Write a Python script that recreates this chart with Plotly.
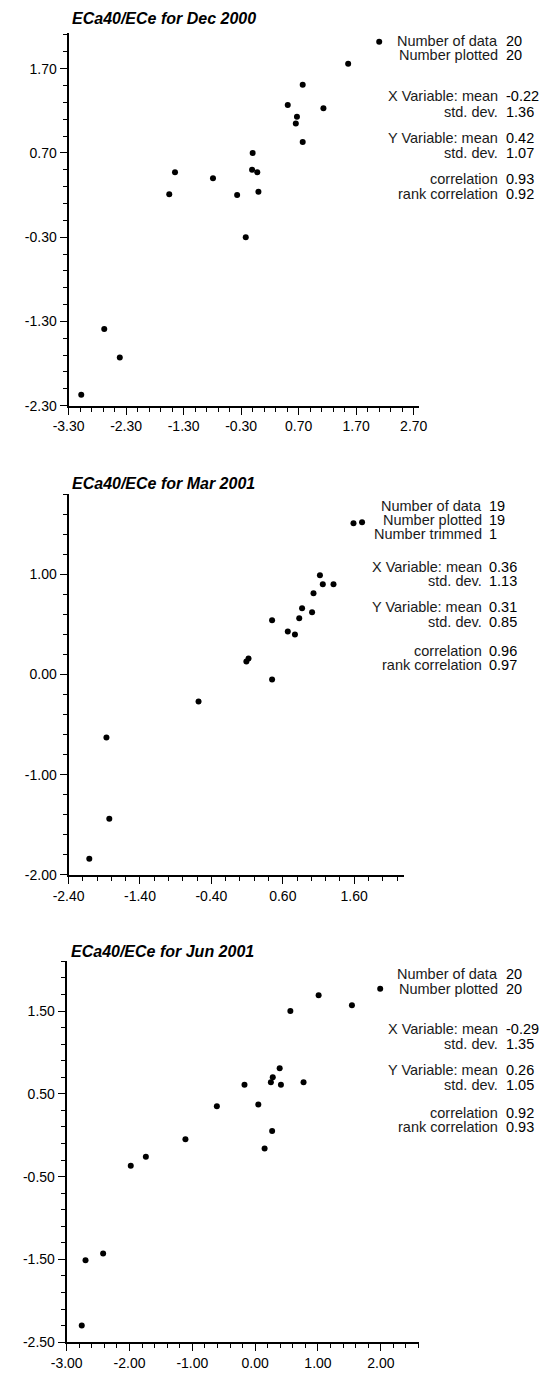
import plotly.graph_objects as go

W, H = 547, 1378
FONT = "Liberation Sans, Arial, sans-serif"

# ---------------- data ----------------
titles = ["ECa40/ECe for Dec 2000", "ECa40/ECe for Mar 2001", "ECa40/ECe for Jun 2001"]

dec_x = [2.10, 1.56, 0.77, 0.51, 1.13, 0.67, 0.65, 0.77, -0.10, -0.11,
         -0.02, -1.45, -0.79, -1.55, -0.37, 0.00, -0.22, -2.68, -2.41, -3.08]
dec_y = [2.02, 1.76, 1.51, 1.27, 1.23, 1.13, 1.05, 0.83, 0.70, 0.50,
         0.47, 0.47, 0.40, 0.21, 0.20, 0.24, -0.30, -1.39, -1.73, -2.17]

mar_x = [1.59, 1.71, 1.12, 1.16, 1.31, 1.03, 0.87, 1.01, 0.83, 0.45,
         0.67, 0.77, 0.12, 0.09, 0.45, -0.58, -1.87, -1.83, -2.11]
mar_y = [1.51, 1.52, 0.99, 0.90, 0.90, 0.81, 0.66, 0.62, 0.56, 0.54,
         0.43, 0.40, 0.16, 0.13, -0.05, -0.27, -0.63, -1.44, -1.84]

jun_x = [1.99, 1.01, 1.54, 0.56, 0.39, 0.28, 0.25, 0.41, -0.17, 0.77,
         -0.61, 0.05, 0.27, -1.11, 0.15, -1.74, -1.98, -2.42, -2.70, -2.76]
jun_y = [1.77, 1.69, 1.57, 1.50, 0.81, 0.70, 0.64, 0.61, 0.61, 0.64,
         0.35, 0.37, 0.05, -0.05, -0.16, -0.26, -0.37, -1.43, -1.51, -2.30]

dec_xticks = [-3.30, -2.30, -1.30, -0.30, 0.70, 1.70, 2.70]
dec_yticks = [-2.30, -1.30, -0.30, 0.70, 1.70]
mar_xticks = [-2.40, -1.40, -0.40, 0.60, 1.60]
mar_yticks = [-2.00, -1.00, 0.00, 1.00]
jun_xticks = [-3.00, -2.00, -1.00, 0.00, 1.00, 2.00]
jun_yticks = [-2.50, -1.50, -0.50, 0.50, 1.50]

stat_labels_a = ["Number of data", "Number plotted", "X Variable: mean", "std. dev.",
                 "Y Variable: mean", "std. dev.", "correlation", "rank correlation"]
stat_labels_b = ["Number of data", "Number plotted", "Number trimmed", "X Variable: mean",
                 "std. dev.", "Y Variable: mean", "std. dev.", "correlation", "rank correlation"]
dec_stats = ["20", "20", "-0.22", "1.36", "0.42", "1.07", "0.93", "0.92"]
mar_stats = ["19", "19", "1", "0.36", "1.13", "0.31", "0.85", "0.96", "0.97"]
jun_stats = ["20", "20", "-0.29", "1.35", "0.26", "1.05", "0.92", "0.93"]

# ---------------- layout (pixel geometry) ----------------
panels = [
    dict(x=dec_x, y=dec_y, xt=dec_xticks, yt=dec_yticks, xr=[-3.30, 2.80], yr=[-2.30, 2.12],
         px=[55, 422], py=[408, 33.5], title=titles[0], title_y=19,
         labels=stat_labels_a, vals=dec_stats, lab_x=506, val_x=510,
         rows=[41, 55.5, 97, 112.5, 138.5, 153.5, 180, 195]),
    dict(x=mar_x, y=mar_y, xt=mar_xticks, yt=mar_yticks, xr=[-2.40, 2.30], yr=[-2.00, 1.80],
         px=[55, 406], py=[880, 497], title=titles[1], title_y=486,
         labels=stat_labels_b, vals=mar_stats, lab_x=489, val_x=493,
         rows=[508.5, 523, 537.5, 570, 584.5, 611, 626, 654.5, 669]),
    dict(x=jun_x, y=jun_y, xt=jun_xticks, yt=jun_yticks, xr=[-3.00, 2.60], yr=[-2.50, 2.10],
         px=[53, 421], py=[1350, 967], title=titles[2], title_y=957,
         labels=stat_labels_a, vals=jun_stats, lab_x=506, val_x=510,
         rows=[980, 995, 1035, 1050, 1076, 1091, 1119, 1134]),
]

fig = go.Figure()
annotations = []
layout_axes = {}

for i, p in enumerate(panels, start=1):
    sfx = "" if i == 1 else str(i)
    fig.add_trace(go.Scatter(
        x=p["x"], y=p["y"], mode="markers",
        marker=dict(color="black", size=6),
        xaxis="x" + sfx, yaxis="y" + sfx, showlegend=False, hoverinfo="x+y"))

    common = dict(
        showline=True, linewidth=2, linecolor="black",
        showgrid=False, zeroline=False, ticks="outside", ticklen=7, tickwidth=1.3,
        tickcolor="black", tickfont=dict(family=FONT, size=14, color="black"),
        tickmode="array", fixedrange=True,
    )
    layout_axes["xaxis" + sfx] = dict(
        common, domain=[p["px"][0] / W, p["px"][1] / W], range=p["xr"],
        tickvals=p["xt"], ticktext=[f"{v:.2f}" for v in p["xt"]],
        anchor="y" + sfx,
        minor=dict(ticks="outside", ticklen=4, tickwidth=1.3, tickcolor="black",
                   tick0=p["xt"][0], dtick=0.2, showgrid=False),
    )
    layout_axes["yaxis" + sfx] = dict(
        common, domain=[1 - p["py"][0] / H, 1 - p["py"][1] / H], range=p["yr"],
        tickvals=p["yt"], ticktext=[f"{v:.2f}" for v in p["yt"]],
        anchor="x" + sfx,
        minor=dict(ticks="outside", ticklen=4, tickwidth=1.3, tickcolor="black",
                   tick0=p["yt"][0], dtick=0.2, showgrid=False),
    )

    annotations.append(dict(
        text="<b><i>" + p["title"] + "</i></b>", xref="paper", yref="paper",
        x=(p["px"][0] + 2) / W, y=1 - p["title_y"] / H, xanchor="left", yanchor="middle",
        showarrow=False, font=dict(family=FONT, size=16, color="black")))

    for lab, val, ry in zip(p["labels"], p["vals"], p["rows"]):
        annotations.append(dict(
            text=lab, xref="paper", yref="paper", x=p["lab_x"] / W, y=1 - ry / H,
            xanchor="right", yanchor="middle", showarrow=False,
            font=dict(family=FONT, size=14.5, color="#1a1a1a")))
        annotations.append(dict(
            text=val, xref="paper", yref="paper", x=p["val_x"] / W, y=1 - ry / H,
            xanchor="left", yanchor="middle", showarrow=False,
            font=dict(family=FONT, size=14.5, color="black")))

fig.update_layout(
    width=W, height=H, autosize=False,
    margin=dict(l=0, r=0, t=0, b=0, pad=0),
    paper_bgcolor="white", plot_bgcolor="white",
    annotations=annotations, showlegend=False,
    **layout_axes,
)

fig.write_html("out.html", config={"displayModeBar": False})
